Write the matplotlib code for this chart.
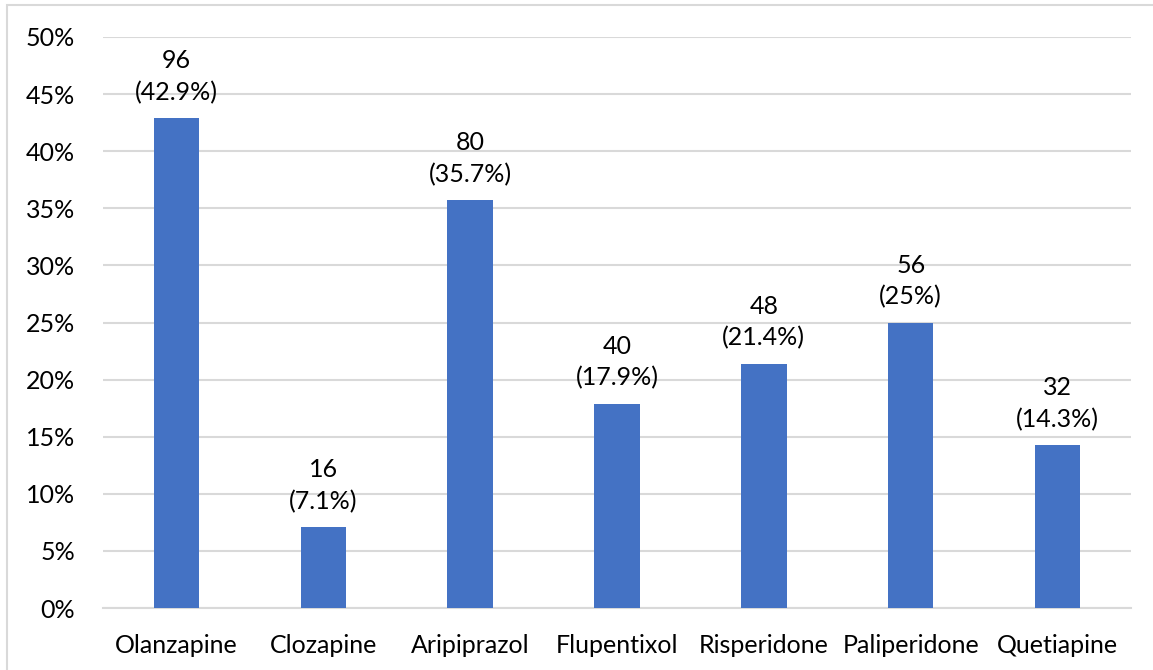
import matplotlib
matplotlib.use('Agg')
import matplotlib.pyplot as plt
from matplotlib.patches import Rectangle
from matplotlib.ticker import FuncFormatter

drugs = ['Olanzapine', 'Clozapine', 'Aripiprazol', 'Flupentixol',
         'Risperidone', 'Paliperidone', 'Quetiapine']
counts = [96, 16, 80, 40, 48, 56, 32]
percents = [42.9, 7.1, 35.7, 17.9, 21.4, 25, 14.3]
pct_labels = ['42.9%', '7.1%', '35.7%', '17.9%', '21.4%', '25%', '14.3%']

plt.rcParams['font.family'] = ['Lato', 'DejaVu Sans']

W, H = 1153, 670
fig = plt.figure(figsize=(W / 100, H / 100), dpi=100)
ax = fig.add_axes([103 / W, 62 / H, (1131 - 103) / W, (608 - 37) / H])

# outer chart border (runs off the right and bottom edges)
fig.patches.append(Rectangle((7 / W, -0.1), 1.2, (H - 5) / H + 0.1,
                             transform=fig.transFigure, fill=False,
                             edgecolor='#d9d9d9', lw=1.5))

x = range(len(drugs))
vals = [p / 100 for p in percents]
ax.bar(x, vals, width=0.31, color='#4472C4', zorder=3)

for i, (c, lab) in enumerate(zip(counts, pct_labels)):
  ax.annotate(f'{c}\n({lab})', (i, vals[i]), xytext=(0, 10),
              textcoords='offset points', ha='center', va='bottom',
              fontsize=18, linespacing=1.45, color='#000000')

ax.set_xlim(-0.5, len(drugs) - 0.5)
ax.set_ylim(0, 0.5)
ax.set_yticks([i * 0.05 for i in range(11)])
ax.yaxis.set_major_formatter(FuncFormatter(lambda v, _: f'{round(v * 100)}%'))
ax.set_xticks(list(x), drugs)
ax.grid(axis='y', color='#d9d9d9', lw=1.5, zorder=0)
ax.tick_params(axis='both', length=0, labelsize=18, colors='#000000')
ax.tick_params(axis='y', pad=20)
ax.tick_params(axis='x', pad=19)
for s in ['top', 'right', 'left']:
  ax.spines[s].set_visible(False)
ax.spines['bottom'].set_color('#d9d9d9')
ax.spines['bottom'].set_linewidth(1.5)

fig.savefig('out.png', dpi=100)
